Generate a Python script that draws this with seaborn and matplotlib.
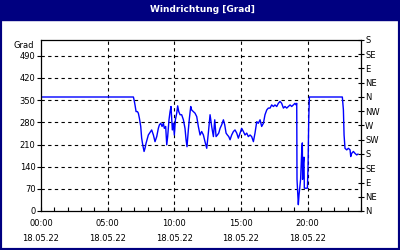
import matplotlib
matplotlib.use("Agg")
import matplotlib.pyplot as plt
from matplotlib.patches import Rectangle
from matplotlib.ticker import MultipleLocator, FixedLocator
import seaborn as sns
import pandas as pd

hours = [0.0, 6.93, 6.98, 7.05, 7.13, 7.23, 7.30, 7.38, 7.48, 7.55, 7.63, 7.73, 7.80, 7.88, 7.98,
         8.05, 8.18, 8.30, 8.43, 8.55, 8.68, 8.80, 8.88, 8.98, 9.08, 9.18, 9.25, 9.35, 9.43, 9.50,
         9.60, 9.68, 9.75, 9.85, 9.93, 10.00, 10.08, 10.18, 10.25, 10.33, 10.43, 10.55, 10.68,
         10.80, 10.88, 10.95, 11.05, 11.13, 11.23, 11.30, 11.43, 11.55, 11.68, 11.80, 11.93,
         12.05, 12.18, 12.30, 12.43, 12.55, 12.68, 12.80, 12.93, 13.03, 13.13, 13.23, 13.33,
         13.43, 13.55, 13.68, 13.78, 13.88, 13.98, 14.08, 14.18, 14.30, 14.43, 14.55, 14.68,
         14.80, 14.93, 15.05, 15.18, 15.30, 15.43, 15.55, 15.68, 15.80, 15.93, 16.05, 16.18,
         16.30, 16.43, 16.55, 16.68, 16.80, 16.93, 17.05, 17.18, 17.30, 17.43, 17.55, 17.68,
         17.80, 17.93, 18.05, 18.18, 18.30, 18.43, 18.55, 18.68, 18.80, 18.93, 19.05, 19.13,
         19.18, 19.20, 19.25, 19.30, 19.35, 19.40, 19.47, 19.55, 19.60, 19.62, 19.67, 19.72,
         19.75, 19.98, 20.03, 20.08, 20.13, 22.60, 22.68, 22.73, 22.80, 22.93, 23.05, 23.18,
         23.23, 23.30, 23.43, 23.55, 23.68, 23.78]
degrees = [360, 360, 351, 335, 314, 314, 309, 293, 267, 230, 209, 188, 198, 214, 230,
           240, 248, 256, 240, 219, 235, 261, 272, 277, 267, 277, 261, 267, 209, 235,
           288, 314, 330, 256, 277, 240, 288, 309, 332, 314, 304, 304, 288,
           261, 225, 203, 256, 293, 330, 319, 314, 309, 298, 267, 240,
           251, 240, 219, 198, 246, 304, 267, 235, 288, 235, 240, 246,
           261, 272, 288, 272, 246, 240, 235, 225, 240, 251, 256, 246,
           230, 246, 261, 251, 240, 246, 235, 240, 235, 219, 246, 282,
           277, 288, 267, 277, 304, 319, 325, 325, 335, 330, 335, 330,
           340, 346, 340, 325, 330, 325, 330, 335, 330, 335, 340, 335,
           340, 100, 60, 20, 50, 70, 100, 185, 215, 100, 150, 170,
           72, 72, 145, 290, 360, 360, 319, 240, 198, 193, 198, 193,
           172, 182, 188, 182, 177, 180]

left_ticks = [0, 70, 140, 210, 280, 350, 420, 490]
right_ticks = [0, 45, 90, 135, 180, 225, 270, 315, 360, 405, 450, 495, 540]
right_labels = ["N", "NE", "E", "SE", "S", "SW", "W", "NW", "N", "NE", "E", "SE", "S"]
x_major = [0, 5, 10, 15, 20]
x_labels = ["00:00\n18.05.22", "05:00\n18.05.22", "10:00\n18.05.22",
            "15:00\n18.05.22", "20:00\n18.05.22"]
title = "Windrichtung [Grad]"
unit = "Grad"

sns.set_theme(style="white")
plt.rcParams["font.family"] = ["DejaVu Sans"]

navy = "#000080"
fig = plt.figure(figsize=(4, 2.5), dpi=100, facecolor="white")
fig.patches.append(Rectangle((0, 0), 1, 1, transform=fig.transFigure, fill=False,
                             edgecolor=navy, linewidth=3, zorder=0))
fig.patches.append(Rectangle((0, 0.92), 1, 0.08, transform=fig.transFigure,
                             facecolor=navy, edgecolor=navy, zorder=0))
fig.text(0.505, 0.962, title, color="white", fontsize=6.5, fontweight="bold",
         ha="center", va="center")

ax = fig.add_axes([0.1025, 0.156, 0.8, 0.684])
ax.set_facecolor("white")
df = pd.DataFrame({"h": hours, "deg": degrees})
sns.lineplot(data=df, x="h", y="deg", ax=ax, color="#0000FF", linewidth=1.0,
             estimator=None, sort=False)
ax.set_xlim(0, 24)
ax.set_ylim(0, 540)
ax.set_xlabel("")
ax.set_ylabel("")

for s in ax.spines.values():
    s.set_color("black")
    s.set_linewidth(0.9)

ax.set_xticks(x_major)
ax.set_xticklabels(x_labels, fontsize=6)
ax.xaxis.set_minor_locator(MultipleLocator(1))
ax.tick_params(axis="x", which="both", direction="in", length=3, width=0.8,
               colors="black", pad=6, bottom=True)
for lbl in ax.get_xticklabels():
    lbl.set_linespacing(1.75)

ax.set_yticks(left_ticks)
ax.set_yticklabels([str(t) for t in left_ticks], fontsize=6)
ax.tick_params(axis="y", which="major", direction="out", length=3, width=0.8,
               colors="black", pad=1, left=True)

for t in left_ticks[1:]:
    ax.axhline(t, color="black", linewidth=0.8, linestyle=(0, (3, 3)), zorder=1)
for t in x_major[1:]:
    ax.axvline(t, color="black", linewidth=0.8, linestyle=(0, (3, 3)), zorder=1)

ax2 = ax.twinx()
ax2.set_ylim(0, 540)
ax2.yaxis.set_major_locator(FixedLocator(right_ticks))
ax2.set_yticklabels(right_labels, fontsize=6)
ax2.tick_params(axis="y", direction="inout", length=5, width=0.8, colors="black", pad=0.5)
ax2.grid(False)
for s in ax2.spines.values():
    s.set_visible(False)

fig.text(0.06, 0.82, unit, fontsize=6, ha="center", va="center", color="black")

fig.savefig("out.png", dpi=100, facecolor="white")
